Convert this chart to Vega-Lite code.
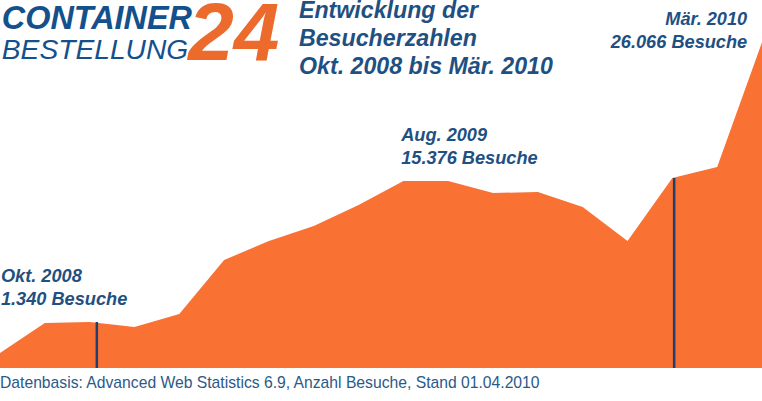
{
  "$schema": "https://vega.github.io/schema/vega-lite/v6.json",
  "description": "Entwicklung der Besucherzahlen Okt. 2008 bis Mär. 2010",
  "width": 762,
  "height": 401,
  "autosize": "none",
  "padding": 0,
  "background": "white",
  "view": {"stroke": null},
  "datasets": {
    "visits": [
      {"month": "Okt. 2008", "t": 0, "visits": 1200},
      {"month": "Nov. 2008", "t": 1, "visits": 3600},
      {"month": "Dez. 2008", "t": 2, "visits": 3680},
      {"month": "Jan. 2009", "t": 3, "visits": 3280},
      {"month": "Feb. 2009", "t": 4, "visits": 4320},
      {"month": "Mär. 2009", "t": 5, "visits": 8640},
      {"month": "Apr. 2009", "t": 6, "visits": 10160},
      {"month": "Mai 2009", "t": 7, "visits": 11360},
      {"month": "Jun. 2009", "t": 8, "visits": 13040},
      {"month": "Jul. 2009", "t": 9, "visits": 14960},
      {"month": "Aug. 2009", "t": 10, "visits": 14960},
      {"month": "Sep. 2009", "t": 11, "visits": 14000},
      {"month": "Okt. 2009", "t": 12, "visits": 14080},
      {"month": "Nov. 2009", "t": 13, "visits": 12880},
      {"month": "Dez. 2009", "t": 14, "visits": 10160},
      {"month": "Jan. 2010", "t": 15, "visits": 15200},
      {"month": "Feb. 2010", "t": 16, "visits": 16080},
      {"month": "Mär. 2010", "t": 17, "visits": 26066}
    ],
    "markers": [
      {"t": 2.16, "visits": 3680},
      {"t": 15.04, "visits": 15200}
    ],
    "heading": [
      {"label": "Entwicklung der", "t": 6.67, "visits": 28560},
      {"label": "Besucherzahlen", "t": 6.67, "visits": 26320},
      {"label": "Okt. 2008 bis Mär. 2010", "t": 6.67, "visits": 24080}
    ],
    "notesLeft": [
      {"label": "Okt. 2008", "t": 0.02, "visits": 7300},
      {"label": "1.340 Besuche", "t": 0.02, "visits": 5460},
      {"label": "Aug. 2009", "t": 8.95, "visits": 18580},
      {"label": "15.376 Besuche", "t": 8.95, "visits": 16740}
    ],
    "notesRight": [
      {"label": "Mär. 2010", "t": 16.67, "visits": 27860},
      {"label": "26.066 Besuche", "t": 16.67, "visits": 26020}
    ],
    "source": [
      {"label": "Datenbasis: Advanced Web Statistics 6.9, Anzahl Besuche, Stand 01.04.2010", "t": 0, "visits": -1200}
    ],
    "logoTop": [{"label": "CONTAINER", "t": 0.04, "visits": 27920}],
    "logoBottom": [{"label": "BESTELLUNG", "t": 0.04, "visits": 25400}],
    "logoNumber": [{"label": "24", "t": 4.2, "visits": 26640}]
  },
  "encoding": {
    "x": {"field": "t", "type": "quantitative", "axis": null, "scale": {"domain": [0, 17], "nice": false, "zero": false}},
    "y": {"field": "visits", "type": "quantitative", "axis": null, "scale": {"domain": [-2640, 29440], "nice": false, "zero": false}}
  },
  "layer": [
    {
      "data": {"name": "visits"},
      "mark": {"type": "area", "color": "#f97133", "interpolate": "linear"}
    },
    {
      "data": {"name": "markers"},
      "mark": {"type": "rule", "color": "#1f3f70", "strokeWidth": 2.5},
      "encoding": {"y2": {"datum": 0}}
    },
    {
      "data": {"name": "heading"},
      "mark": {"type": "text", "align": "left", "baseline": "middle", "font": "Liberation Sans", "fontWeight": "bold", "fontStyle": "italic", "fontSize": 23.2, "color": "#1f5082"},
      "encoding": {"text": {"field": "label"}}
    },
    {
      "data": {"name": "notesLeft"},
      "mark": {"type": "text", "align": "left", "baseline": "middle", "font": "Liberation Sans", "fontWeight": "bold", "fontStyle": "italic", "fontSize": 18.2, "color": "#1f5082"},
      "encoding": {"text": {"field": "label"}}
    },
    {
      "data": {"name": "notesRight"},
      "mark": {"type": "text", "align": "right", "baseline": "middle", "font": "Liberation Sans", "fontWeight": "bold", "fontStyle": "italic", "fontSize": 18.2, "color": "#1f5082"},
      "encoding": {"text": {"field": "label"}}
    },
    {
      "data": {"name": "source"},
      "mark": {"type": "text", "align": "left", "baseline": "middle", "font": "Liberation Sans", "fontSize": 15.7, "color": "#2a5a88"},
      "encoding": {"text": {"field": "label"}}
    },
    {
      "data": {"name": "logoTop"},
      "mark": {"type": "text", "align": "left", "baseline": "middle", "font": "Liberation Sans", "fontWeight": "bold", "fontStyle": "italic", "fontSize": 32.4, "color": "#14508c"},
      "encoding": {"text": {"field": "label"}}
    },
    {
      "data": {"name": "logoBottom"},
      "mark": {"type": "text", "align": "left", "baseline": "middle", "font": "Liberation Sans", "fontStyle": "italic", "fontSize": 28.2, "color": "#14508c"},
      "encoding": {"text": {"field": "label"}}
    },
    {
      "data": {"name": "logoNumber"},
      "mark": {"type": "text", "align": "left", "baseline": "middle", "font": "Liberation Sans", "fontWeight": "bold", "fontStyle": "italic", "fontSize": 82, "color": "#ec6a2c"},
      "encoding": {"text": {"field": "label"}}
    }
  ]
}
